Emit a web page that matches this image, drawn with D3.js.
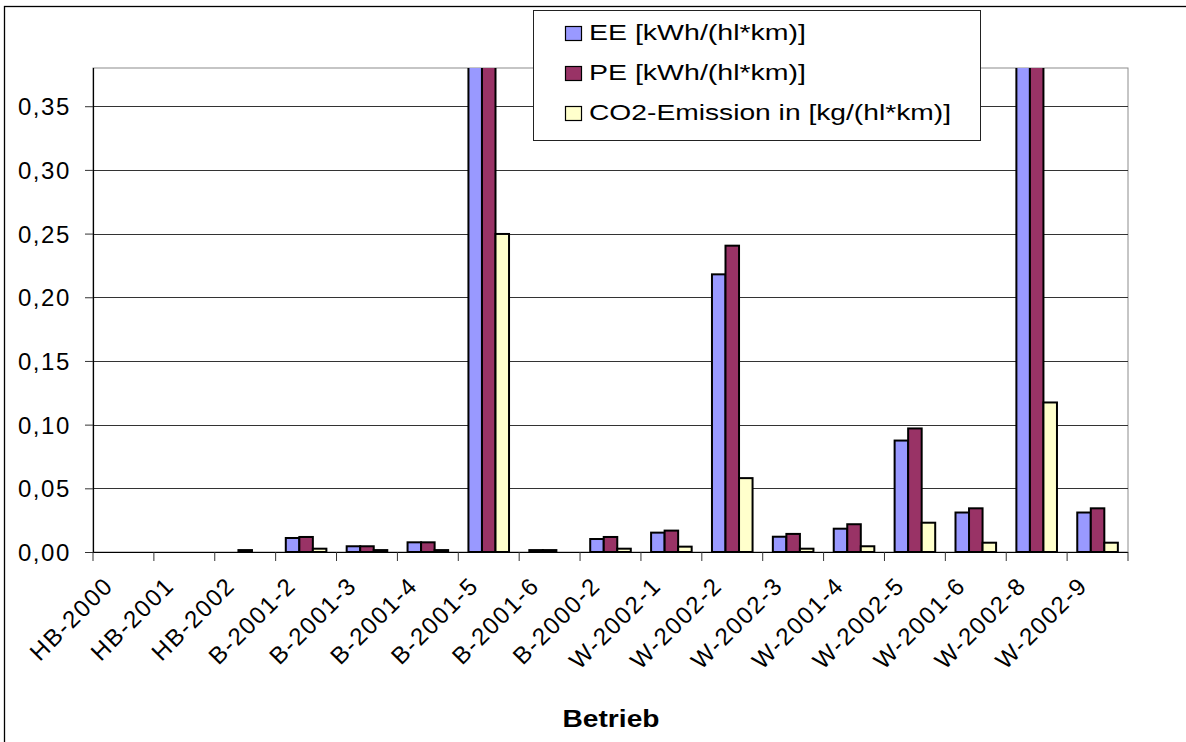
<!DOCTYPE html>
<html>
<head>
<meta charset="utf-8">
<script src="https://cdn.jsdelivr.net/npm/d3@7"></script>
<style>
  body { margin: 0; background: #fff; }
  text { font-family: Arial, "Liberation Sans", sans-serif; fill: #000; }
</style>
</head>
<body>
<div id="chart"></div>
<script>
// categories (Betrieb)
const betriebe = ["HB-2000", "HB-2001", "HB-2002", "B-2001-2", "B-2001-3", "B-2001-4", "B-2001-5",
  "B-2001-6", "B-2000-2", "W-2002-1", "W-2002-2", "W-2002-3", "W-2001-4", "W-2002-5",
  "W-2001-6", "W-2002-8", "W-2002-9"];

// series values (B-2001-5 and W-2002-8 EE/PE run off the top of the axis)
const eeValues  = [0, 0, 0, 0.011, 0.0045, 0.0076, 0.62, 0.0015, 0.0102, 0.0152, 0.218, 0.012, 0.0183, 0.0875, 0.031, 0.55, 0.031];
const peValues  = [0, 0, 0.0015, 0.0118, 0.0045, 0.0076, 0.68, 0.0015, 0.0118, 0.0168, 0.2405, 0.0142, 0.0218, 0.097, 0.0343, 0.60, 0.0343];
const co2Values = [0, 0, 0, 0.0026, 0.0015, 0.0015, 0.2497, 0, 0.0026, 0.0042, 0.058, 0.0026, 0.0045, 0.023, 0.0073, 0.1174, 0.0073];

const seriesNames = ["EE [kWh/(hl*km)]", "PE [kWh/(hl*km)]", "CO2-Emission in [kg/(hl*km)]"];
const seriesColors = ["#9999ff", "#993366", "#ffffcc"];
const yTicks = [0, 0.05, 0.10, 0.15, 0.20, 0.25, 0.30, 0.35];
const yMax = 0.38;

const W = 1186, H = 742;
const plot = { left: 93, right: 1128, top: 68, bottom: 552 };

const svg = d3.select("#chart")
  .append("svg")
  .attr("width", W)
  .attr("height", H);

// outer chart border (right/bottom fall outside the picture)
svg.append("rect")
  .attr("x", 4.5).attr("y", 6.5)
  .attr("width", W + 10).attr("height", H + 10)
  .attr("fill", "#fff")
  .attr("stroke", "#000")
  .attr("stroke-width", 1.3);

// scales
const x = d3.scaleBand()
  .domain(betriebe)
  .range([plot.left, plot.right]);

const xSeries = d3.scaleBand()
  .domain(d3.range(3))
  .range([0, x.bandwidth()])
  .paddingInner(0)
  .paddingOuter(0.75);

const y = d3.scaleLinear()
  .domain([0, yMax])
  .range([plot.bottom, plot.top]);

// plot area frame
svg.append("rect")
  .attr("x", plot.left).attr("y", plot.top)
  .attr("width", plot.right - plot.left)
  .attr("height", plot.bottom - plot.top)
  .attr("fill", "none")
  .attr("stroke", "#8c8c8c")
  .attr("stroke-width", 1);

// grid lines
svg.append("g")
  .attr("class", "grid")
  .attr("transform", `translate(${plot.left}, 0)`)
  .call(d3.axisLeft(y)
    .tickValues(yTicks.filter(d => d > 0))
    .tickSize(-(plot.right - plot.left))
    .tickFormat("")
  )
  .call(g => g.select(".domain").remove())
  .selectAll("line")
  .style("stroke", "#333")
  .style("stroke-width", 1)
  .style("shape-rendering", "crispEdges");

// bars
svg.append("clipPath").attr("id", "plotclip")
  .append("rect")
  .attr("x", plot.left).attr("y", plot.top)
  .attr("width", plot.right - plot.left)
  .attr("height", plot.bottom - plot.top);

const allSeries = [eeValues, peValues, co2Values];
const barData = [];
betriebe.forEach((b, i) => {
  allSeries.forEach((vals, s) => {
    if (vals[i] > 0) barData.push({ betrieb: b, s: s, value: vals[i] });
  });
});

svg.append("g")
  .attr("clip-path", "url(#plotclip)")
  .selectAll("rect")
  .data(barData)
  .join("rect")
    .attr("x", d => x(d.betrieb) + xSeries(d.s))
    .attr("y", d => y(d.value))
    .attr("width", xSeries.bandwidth())
    .attr("height", d => y(0) - y(d.value))
    .style("fill", d => seriesColors[d.s])
    .style("stroke", "#000")
    .style("stroke-width", 2);

// y axis
const fmt = d => d3.format(".2f")(d).replace(".", ",");
const yAxis = svg.append("g")
  .attr("transform", `translate(${plot.left}, 0)`)
  .call(d3.axisLeft(y)
    .tickValues(yTicks)
    .tickSize(8)
    .tickPadding(14)
    .tickFormat(fmt)
  );
yAxis.select(".domain")
  .attr("d", `M0.5,${plot.top}V${plot.bottom}`)
  .style("stroke", "#000").style("stroke-width", 1.2);
yAxis.selectAll(".tick line").style("stroke", "#333");
yAxis.selectAll(".tick text")
  .style("font-size", "24px")
  .style("letter-spacing", "1.6px")
  .attr("dy", "0.36em");

// x axis: ticks sit on category boundaries
const xAxis = svg.append("g")
  .attr("transform", `translate(0, ${plot.bottom})`);
xAxis.append("line")
  .attr("x1", plot.left).attr("x2", plot.right)
  .attr("y1", 0.5).attr("y2", 0.5)
  .style("stroke", "#000").style("stroke-width", 1.2);
xAxis.selectAll("line.tick")
  .data(betriebe.concat(["end"]))
  .join("line")
    .attr("class", "tick")
    .attr("x1", (d, i) => i < betriebe.length ? x(d) : plot.right)
    .attr("x2", (d, i) => i < betriebe.length ? x(d) : plot.right)
    .attr("y1", 0).attr("y2", 9)
    .style("stroke", "#333");
xAxis.selectAll("text")
  .data(betriebe)
  .join("text")
    .attr("transform", d => `translate(${x(d) + x.bandwidth() / 2 - 21}, 23) rotate(-45)`)
    .attr("text-anchor", "end")
    .attr("dy", "0.72em")
    .style("font-size", "24px")
    .style("letter-spacing", "1.6px")
    .text(d => d);

// axis title
svg.append("text")
  .attr("x", 611)
  .attr("y", 727)
  .attr("text-anchor", "middle")
  .attr("textLength", 97)
  .attr("lengthAdjust", "spacingAndGlyphs")
  .style("font-size", "23px")
  .style("font-weight", "bold")
  .text("Betrieb");

// legend
const legend = svg.append("g");
legend.append("rect")
  .attr("x", 533.5).attr("y", 10.5)
  .attr("width", 447).attr("height", 130)
  .attr("fill", "#fff")
  .attr("stroke", "#222")
  .attr("stroke-width", 1);

const legendWidths = [217, 217, 362];
const legendRows = legend.selectAll("g.item")
  .data(seriesNames)
  .join("g")
    .attr("class", "item")
    .attr("transform", (d, i) => `translate(0, ${33 + i * 40})`);
legendRows.append("rect")
  .attr("x", 565.5).attr("y", -6.5)
  .attr("width", 16).attr("height", 14)
  .style("fill", (d, i) => seriesColors[i])
  .style("stroke", "#000")
  .style("stroke-width", 1.2);
legendRows.append("text")
  .attr("x", 589)
  .attr("y", 7)
  .attr("textLength", (d, i) => legendWidths[i])
  .attr("lengthAdjust", "spacingAndGlyphs")
  .style("font-size", "22px")
  .text(d => d);
</script>
</body>
</html>
